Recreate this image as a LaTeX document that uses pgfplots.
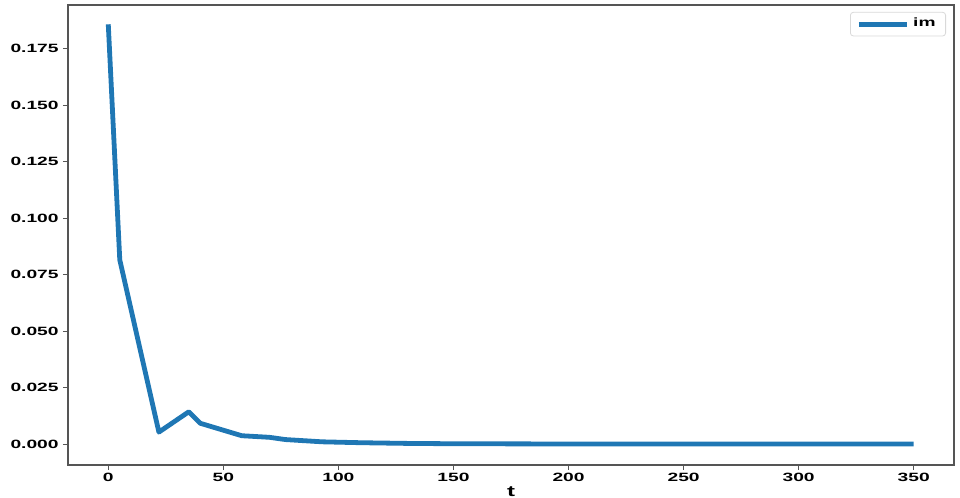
\documentclass[border=0pt]{standalone}
\usepackage{pgfplots}
\pgfplotsset{compat=1.18}
\usepackage{fontspec}
\newfontfamily\plotfont{Liberation Sans Bold}[FakeStretch=1.6]
\definecolor{mplblue}{HTML}{1F77B4}
\definecolor{spine}{HTML}{555555}
\begin{document}
\begin{tikzpicture}
\begin{axis}[
    scale only axis,
    width=443pt, height=230pt,
    xmin=-17.5, xmax=367.5,
    ymin=-0.00925, ymax=0.19425,
    xtick={0,50,...,350},
    ytick={0,0.025,...,0.175},
    axis line style={spine, line width=0.6pt},
    tick style={spine, line width=0.5pt},
    tick align=outside,
    major tick length=2.5pt,
    xtick pos=bottom, ytick pos=left,
    ticklabel style={font=\plotfont\fontsize{6}{7}\selectfont},
    xticklabel style={inner sep=1pt, yshift=-0.5pt},
    yticklabel style={inner sep=2pt},
    /pgf/number format/assume math mode=true,
    yticklabel={\pgfmathprintnumber[fixed,fixed zerofill,precision=3]{\tick}},
    xlabel={t},
    xlabel style={font=\plotfont\fontsize{7.5}{8}\selectfont, inner sep=0pt, yshift=-1pt},
    legend style={at={(0.991,0.985)}, anchor=north east,
        draw=black!15, rounded corners=1.5pt,
        font=\plotfont\fontsize{6}{7}\selectfont,
        inner xsep=3pt, inner ysep=1pt},
    legend image code/.code={\draw[#1] (0pt,0pt) -- (24pt,0pt);},
]
\addplot[mplblue, line width=2.4pt, line join=round] coordinates {
    (0,0.1857) (5,0.0815) (22,0.0053) (35,0.0143) (40,0.0092)
    (58,0.0037) (70,0.0030) (77,0.0020) (93,0.0010) (110,0.0006)
    (130,0.0003) (150,0.00015) (200,0.00005) (250,0.00002)
    (300,0.00001) (350,0.0)
};
\legend{im}
\end{axis}
\path (-34pt,-16.5pt) rectangle (446pt,232.5pt);
\end{tikzpicture}
\end{document}
